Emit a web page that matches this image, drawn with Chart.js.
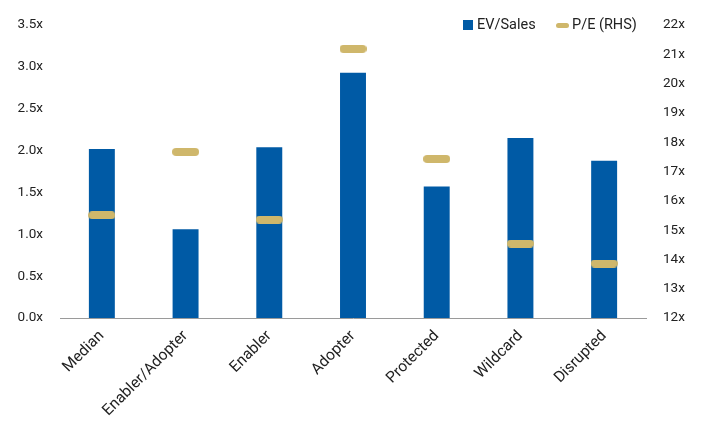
<!DOCTYPE html>
<html>
<head>
<meta charset="utf-8">
<script src="https://cdn.jsdelivr.net/npm/chart.js@4/dist/chart.umd.min.js"></script>
<style>
  html, body { margin: 0; padding: 0; background: #fff; }
  #wrap { position: relative; width: 706px; height: 424px; }
  canvas { position: absolute; left: 0; top: 0; }
  .legend { position: absolute; top: 16px; left: 463px; height: 18px; font: 14.5px Roboto, sans-serif; color: #222; white-space: nowrap; }
  .legend .item { position: absolute; top: 0; line-height: 18px; }
  .legend .sw { position: absolute; }
</style>
</head>
<body>
<div id="wrap">
  <canvas id="chart" width="706" height="424"></canvas>
  <div class="legend">
    <span class="sw" style="left:0;top:4px;width:10px;height:10px;background:#005AA5"></span>
    <span class="item" style="left:14px">EV/Sales</span>
    <span class="sw" style="left:93px;top:6.5px;width:13px;height:5px;border-radius:3px;background:#CFB76B"></span>
    <span class="item" style="left:109px">P/E (RHS)</span>
  </div>
</div>
<script>
// Valuation by segment: EV/Sales on the left axis, P/E on the right axis
const categories = ['Median', 'Enabler/Adopter', 'Enabler', 'Adopter', 'Protected', 'Wildcard', 'Disrupted'];
const evSales = [2.02, 1.06, 2.04, 2.93, 1.57, 2.15, 1.88];
const peRatio = [15.51, 17.67, 15.36, 21.19, 17.43, 14.54, 13.86];
const leftTicks = [0, 0.5, 1, 1.5, 2, 2.5, 3, 3.5];
const rightTicks = [12, 13, 14, 15, 16, 17, 18, 19, 20, 21, 22];

const BLUE = '#005AA5';
const GOLD = '#CFB76B';
const TEXT = '#222';
const FONT = { family: 'Roboto, sans-serif', size: 13.5 };
const XFONT = { family: 'Roboto, sans-serif', size: 15.5 };

// Rounded horizontal dash used as the P/E marker
function dashMarker(w, h, color) {
  const c = document.createElement('canvas');
  c.width = w; c.height = h;
  const g = c.getContext('2d');
  const r = h / 2;
  g.fillStyle = color;
  g.beginPath();
  g.moveTo(r, 0);
  g.lineTo(w - r, 0);
  g.arc(w - r, r, r, -Math.PI / 2, Math.PI / 2);
  g.lineTo(r, h);
  g.arc(r, r, r, Math.PI / 2, Math.PI * 1.5);
  g.closePath();
  g.fill();
  return c;
}
const marker = dashMarker(27, 8, GOLD);

new Chart(document.getElementById('chart'), {
  data: {
    labels: categories,
    datasets: [
      {
        type: 'line',
        label: 'P/E (RHS)',
        data: peRatio,
        yAxisID: 'yRight',
        showLine: false,
        pointStyle: marker,
        order: 0
      },
      {
        type: 'bar',
        label: 'EV/Sales',
        data: evSales,
        yAxisID: 'yLeft',
        backgroundColor: BLUE,
        borderWidth: 0,
        categoryPercentage: 1,
        barPercentage: 0.31,
        order: 1
      }
    ]
  },
  options: {
    responsive: false,
    animation: false,
    layout: { padding: { top: 19, left: 0, right: 0, bottom: 0 } },
    plugins: { legend: { display: false }, tooltip: { enabled: false } },
    scales: {
      x: {
        grid: { display: false, drawTicks: false },
        border: { display: true, color: '#9a9a9a', width: 1 },
        ticks: { color: TEXT, font: XFONT, minRotation: 45, maxRotation: 45, padding: 9, autoSkip: false },
        afterFit: s => { s.height = 106; }
      },
      yLeft: {
        position: 'left',
        min: 0, max: 3.5,
        grid: { display: false, drawTicks: false },
        border: { display: false },
        afterBuildTicks: s => { s.ticks = leftTicks.map(v => ({ value: v })); },
        ticks: { color: TEXT, font: FONT, padding: 17, callback: v => v.toFixed(1) + 'x' },
        afterFit: s => { s.width = 60; }
      },
      yRight: {
        position: 'right',
        min: 12, max: 22,
        grid: { display: false, drawTicks: false },
        border: { display: false },
        afterBuildTicks: s => { s.ticks = rightTicks.map(v => ({ value: v })); },
        ticks: { color: TEXT, font: FONT, padding: 17, callback: v => v + 'x' },
        afterFit: s => { s.width = 60; }
      }
    }
  }
});
</script>
</body>
</html>
